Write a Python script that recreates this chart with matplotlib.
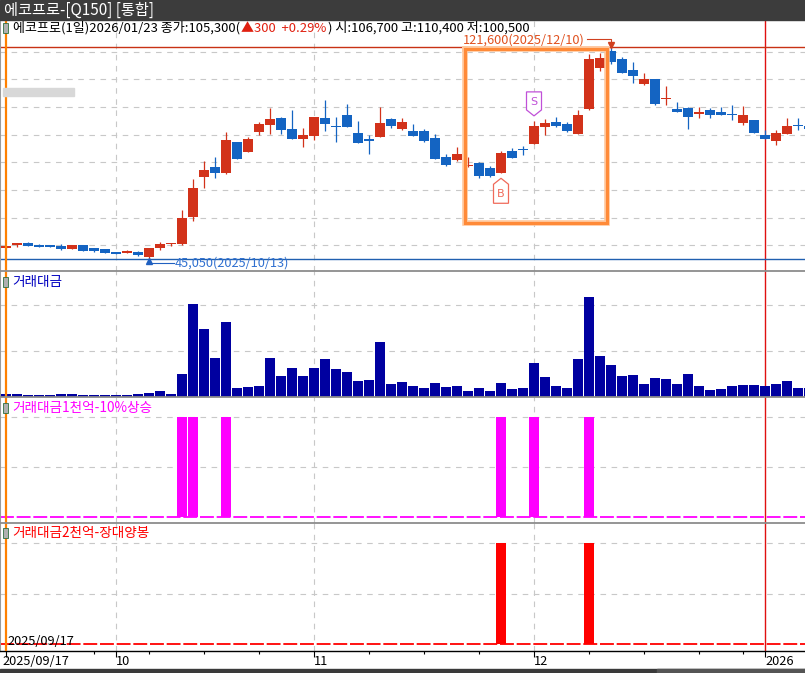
import matplotlib
matplotlib.use('Agg')
import matplotlib.pyplot as plt
from matplotlib.patches import Rectangle, Polygon
from matplotlib.transforms import ScaledTranslation, blended_transform_factory
import numpy as np

plt.rcParams['font.family'] = ['Noto Sans CJK KR', 'DejaVu Sans']
plt.rcParams['lines.scale_dashes'] = False

W, H = 805, 673

# ---------------- data ----------------
opens = [49050, 50100, 50800, 49850, 49800, 49750, 48800, 50100, 49000, 48650,
         47550, 47350, 47550, 45800, 49150, 50450, 50600, 60350, 74800, 78300,
         76250, 87350, 83850, 91100, 93600, 96050, 92050, 88550, 89650, 96050,
         92700, 97150, 90600, 88450, 89150, 95700, 92200, 91350, 91350, 88800,
         81950, 80950, 78550, 79750, 77950, 76250, 84100, 84500, 86650, 92900,
         94600, 93850, 90250, 99300, 114150, 120300, 117400, 113400, 108350, 110150,
         102900, 99300, 99650, 97500, 98950, 98200, 97200, 94250, 95300, 89900,
         87700, 90250, 93200, 93100]
highs = [49800, 50900, 51200, 50450, 50100, 50450, 50100, 50100, 49000, 48650,
         47550, 48450, 48050, 49000, 51200, 50850, 62750, 74000, 80500, 81950,
         91000, 87350, 89150, 94500, 99650, 96500, 98950, 92450, 96400, 102550,
         96400, 101100, 94950, 89900, 100000, 96050, 96050, 93850, 92050, 90250,
         83000, 85550, 82000, 80150, 78700, 84100, 85200, 85900, 95000, 95700,
         96400, 94600, 98950, 119200, 119550, 121600, 118100, 116300, 112350, 110150,
         107650, 101850, 100000, 100000, 99650, 100000, 100750, 100400, 95300, 91700,
         91700, 96050, 96050, 93500]
lows = [49000, 49400, 49750, 49500, 49500, 48450, 48800, 48000, 47600, 47300,
        46950, 47300, 46250, 45050, 48450, 49750, 50250, 58900, 70850, 74450,
        75900, 81300, 83850, 90000, 90350, 90350, 88550, 85650, 88100, 91450,
        87450, 92800, 87000, 83150, 89150, 92550, 91700, 89550, 87350, 81350,
        78700, 80600, 78500, 74450, 74600, 76050, 81700, 82650, 86650, 89900,
        92800, 91000, 90250, 98950, 113050, 115600, 112300, 108700, 108000, 100750,
        100750, 98200, 92050, 96050, 96050, 97150, 95300, 93500, 90600, 88450,
        86300, 90250, 91700, 91700]
closes = [49750, 50800, 49750, 49550, 49550, 48800, 50100, 48050, 47950, 47350,
          47000, 48050, 46600, 49000, 50450, 50800, 59850, 70700, 77250, 76250,
          88100, 81350, 88450, 94000, 95700, 91800, 88550, 89900, 96400, 94000,
          92650, 92800, 87000, 87850, 94250, 93150, 94600, 89550, 87700, 81350,
          79150, 83000, 78600, 75200, 75050, 83400, 81700, 84450, 93150, 94250,
          93150, 91350, 97150, 117400, 117750, 116300, 112350, 111250, 110150, 101100,
          103000, 98200, 96400, 98200, 97150, 97150, 97100, 97150, 90600, 88450,
          90600, 93150, 93100, 92000]
# trading value (억원)
volumes = [130, 130, 90, 90, 90, 130, 130, 90, 90, 90,
           90, 90, 130, 170, 260, 130, 1000, 4050, 2960, 1700,
           3260, 390, 440, 480, 1700, 910, 1260, 910, 1260, 1650,
           1220, 1090, 700, 740, 2390, 570, 650, 480, 390, 610,
           440, 480, 260, 390, 260, 610, 350, 390, 1480, 870,
           480, 390, 1650, 4350, 1780, 1390, 910, 960, 570, 830,
           780, 570, 1000, 480, 300, 350, 480, 520, 520, 480,
           570, 700, 390, 390]
signal_1000_up10 = [16, 17, 20, 45, 48, 53]
signal_2000_long = [45, 53]

month_idx = [10, 28, 48]
year_idx = 69
major_ticks = [0, 10, 28, 48, 69]
major_labels = ['2025/09/17', '10', '11', '12', '2026']
minor_ticks = [8, 13, 18, 23, 33, 38, 43, 53, 58, 63, 67]
price_grid = [50000, 60000, 70000, 80000, 90000, 100000, 110000, 120000]
hi_idx, hi_val, hi_txt = 55, 121600, '121,600(2025/12/10)'
lo_idx, lo_val, lo_txt = 13, 45050, '45,050(2025/10/13)'
buy_idx, sell_idx = 45, 48

UP = '#d2321a'
DN = '#1464c2'
GRID = '#c8c8c8'

n = len(opens)
x = np.arange(n)
XLIM = (-6 / 11, 799 / 11)

fig = plt.figure(figsize=(W / 100, H / 100), dpi=100)
fig.patch.set_facecolor('white')


def px_axes(top, bottom):
    ax = fig.add_axes([0, 1 - bottom / H, 1, (bottom - top) / H])
    ax.set_xlim(*XLIM)
    for s in ['top', 'right', 'bottom']:
        ax.spines[s].set_visible(False)
    ax.spines['left'].set_color('#9a9a9a')
    ax.spines['left'].set_linewidth(1.5)
    ax.set_xticks([])
    ax.set_yticks([])
    return ax


def vgrid(ax):
    for m in month_idx:
        ax.axvline(m, color=GRID, lw=0.8, ls=(0, (4, 4)), zorder=0)
    ax.axvline(year_idx, color='#e01010', lw=1.0, zorder=1)
    ax.axvline(0, color='#ff8000', lw=1.6, zorder=6)


# ---------------- price panel ----------------
axp = px_axes(20, 271)
PPX = 361.7  # won per pixel
axp.set_ylim(50000 - (271 - 245.3) * PPX, 50000 + (245.3 - 20) * PPX)
for g in price_grid:
    axp.axhline(g, color=GRID, lw=0.8, ls=(0, (4, 4)), zorder=0)
vgrid(axp)
o = np.array(opens); c = np.array(closes); h = np.array(highs); l = np.array(lows)
up = c >= o
cols = [UP if u else DN for u in up]
axp.vlines(x, l, h, colors=cols, lw=0.9, zorder=3)
bot = np.minimum(o, c)
ht = np.maximum(np.abs(c - o), 1.3 * PPX)
axp.bar(x, ht, bottom=bot, width=0.9, color=cols, zorder=4, linewidth=0)

axp.axhline(hi_val, color='#c83214', lw=1.0, zorder=2)
axp.axhline(lo_val, color='#2060b0', lw=1.0, zorder=2)

# high annotation
dxp = 1 / 11
axp.plot([hi_idx - 24 * dxp, hi_idx, hi_idx], [hi_val + 8.5 * PPX, hi_val + 8.5 * PPX, hi_val + 3 * PPX],
         color='#d04020', lw=0.8, zorder=7)
axp.plot([hi_idx], [hi_val + 2.5 * PPX], marker='v', color='#d04020', ms=4, zorder=7)
axp.text(hi_idx - 26 * dxp, hi_val + 7.8 * PPX, hi_txt, color='#e0501e', fontsize=9.2,
         ha='right', va='center', zorder=7)
# low annotation
axp.plot([lo_idx, lo_idx + 25 * dxp], [lo_val - 4 * PPX, lo_val - 4 * PPX], color='#2060c0', lw=0.8, zorder=7)
axp.plot([lo_idx], [lo_val - 2 * PPX], marker='^', color='#2060c0', ms=4, zorder=7)
axp.text(lo_idx + 26 * dxp, lo_val - 4.5 * PPX, lo_txt, color='#3070d0', fontsize=9.2,
         ha='left', va='center', zorder=7)

# orange box
bx0, bx1 = 41.75, 54.65
by0, by1 = 58200, 121050
for lw, colr in [(4.0, '#ffc69a'), (2.2, '#ff8a38')]:
    axp.plot([bx0, bx1, bx1, bx0, bx0], [by1, by1, by0, by0, by1], color=colr, lw=lw,
             solid_joinstyle='miter', zorder=8)

# S / B signal markers (pixel geometry relative to candle)
def marker(ax, xi, yv, pts, txt, colr, toff):
    tr = fig.dpi_scale_trans + ScaledTranslation(xi, yv, ax.transData)
    poly = Polygon([(px / 100, py / 100) for px, py in pts], closed=True, facecolor='white',
                   edgecolor=colr, lw=0.9, transform=tr, zorder=9)
    ax.add_patch(poly)
    ax.text(0, toff / 100, txt, transform=tr, color=colr, fontsize=8, ha='center', va='center',
            zorder=10, family=['DejaVu Sans'])

marker(axp, sell_idx, highs[sell_idx],
       [(0, 5), (7.5, 11), (7.5, 29), (-7.5, 29), (-7.5, 11)], 'S', '#c050d8', 19)
marker(axp, buy_idx, lows[buy_idx],
       [(0, -5), (7.5, -11), (7.5, -30), (-7.5, -30), (-7.5, -11)], 'B', '#f06a5a', -21)

# ---------------- volume panel ----------------
axv = px_axes(271, 397)
axv.set_ylim(0, 126 * 43.5)
for g in [2000, 4000]:
    axv.axhline(g, color=GRID, lw=0.8, ls=(0, (4, 4)), zorder=0)
vgrid(axv)
axv.bar(x, volumes, width=0.92, color='#0000a0', linewidth=0, zorder=3)

# ---------------- signal panel 1 ----------------
ax1 = px_axes(397, 522.7)
ax1.set_ylim(-5.7 / 99.7, 120 / 99.7)
for g in [0.5, 1.0]:
    ax1.axhline(g, color=GRID, lw=0.8, ls=(0, (4, 4)), zorder=0)
vgrid(ax1)
ax1.axhline(0, color='#ff00ff', lw=1.3, ls=(0, (10, 2)), zorder=2)
ax1.bar(signal_1000_up10, [1] * len(signal_1000_up10), width=0.9, color='#ff00ff', linewidth=0, zorder=3)

# ---------------- signal panel 2 ----------------
ax2 = px_axes(522.7, 651)
ax2.set_ylim(-7 / 100.7, 121.3 / 100.7)
for g in [0.5, 1.0]:
    ax2.axhline(g, color=GRID, lw=0.8, ls=(0, (4, 4)), zorder=0)
vgrid(ax2)
ax2.axhline(0, color='#ff0000', lw=1.3, ls=(0, (10, 2)), zorder=2)
ax2.bar(signal_2000_long, [1] * len(signal_2000_long), width=0.9, color='#ff0000', linewidth=0, zorder=3)
ax2.text(0.1, -0.005, '2025/09/17', fontsize=9.2, color='black', ha='left', va='baseline', zorder=7)

# x axis
ax2.spines['bottom'].set_visible(True)
ax2.spines['bottom'].set_color('black')
ax2.spines['bottom'].set_linewidth(1.0)
ax2.set_xticks(major_ticks)
ax2.set_xticks(minor_ticks, minor=True)
ax2.set_xticklabels([])
ax2.tick_params(axis='x', which='major', direction='out', length=4, width=0.8, color='black')
ax2.tick_params(axis='x', which='minor', direction='out', length=2.5, width=0.8, color='black')
btr = blended_transform_factory(ax2.transData, fig.transFigure)
for t, lab in zip(major_ticks, major_labels):
    xx = t - 4 / 11 if t == 0 else t
    ax2.text(xx, 1 - 655 / H, lab, transform=btr, fontsize=9.2, ha='left', va='top', color='black')

# panel separators
for yy in [271, 397, 522.7]:
    fig.add_artist(plt.Line2D([0, 1], [1 - yy / H] * 2, color='#8c8c8c', lw=1.3, transform=fig.transFigure))

# ---------------- chrome ----------------
fig.add_artist(Rectangle((0, 1 - 20 / H), 1, 20 / H, transform=fig.transFigure, color='#3c3c3c', zorder=20))
fig.text(4 / W, 1 - 10 / H, '에코프로-[Q150] [통합]', color='white', fontsize=11, va='center', ha='left', zorder=21)
fig.add_artist(Rectangle((0, 0), 1, 4 / H, transform=fig.transFigure, color='#3a3a3a', zorder=20))
fig.add_artist(Rectangle((657 / W, 0), 148 / W, 4 / H, transform=fig.transFigure, color='#555555', zorder=21))
fig.add_artist(Rectangle((3 / W, 1 - 96 / H), 71 / W, 8 / H, transform=fig.transFigure, color='#d8d8d8', zorder=5))

# header text pieces
renderer = fig.canvas.get_renderer()
pieces = [('에코프로(1일)2026/01/23 종가:105,300(', 'black'),
          ('▲300  +0.29%', '#e02010'),
          (') 시:106,700 고:110,400 저:100,500', 'black')]
cx = 13
for txt, colr in pieces:
    t = fig.text(cx / W, 1 - 28 / H, txt, color=colr, fontsize=9.4, va='center', ha='left', zorder=21)
    bb = t.get_window_extent(renderer=renderer)
    cx += bb.width + 1

# icon boxes before panel titles
labels = [(28, None), (282, ('거래대금', '#0000c0')), (408, ('거래대금1천억-10%상승', '#ff00ff')),
          (533, ('거래대금2천억-장대양봉', '#ff0000'))]
for yy, lab in labels:
    fig.add_artist(Rectangle((3 / W, 1 - (yy + 5) / H), 5 / W, 10 / H, transform=fig.transFigure,
                             facecolor='#b0b0b0', edgecolor='#2e6e3e', lw=0.6, zorder=21))
    if lab:
        fig.text(12 / W, 1 - yy / H, lab[0], color=lab[1], fontsize=9.8, va='center', ha='left', zorder=21)

fig.savefig('out.png', dpi=100)
